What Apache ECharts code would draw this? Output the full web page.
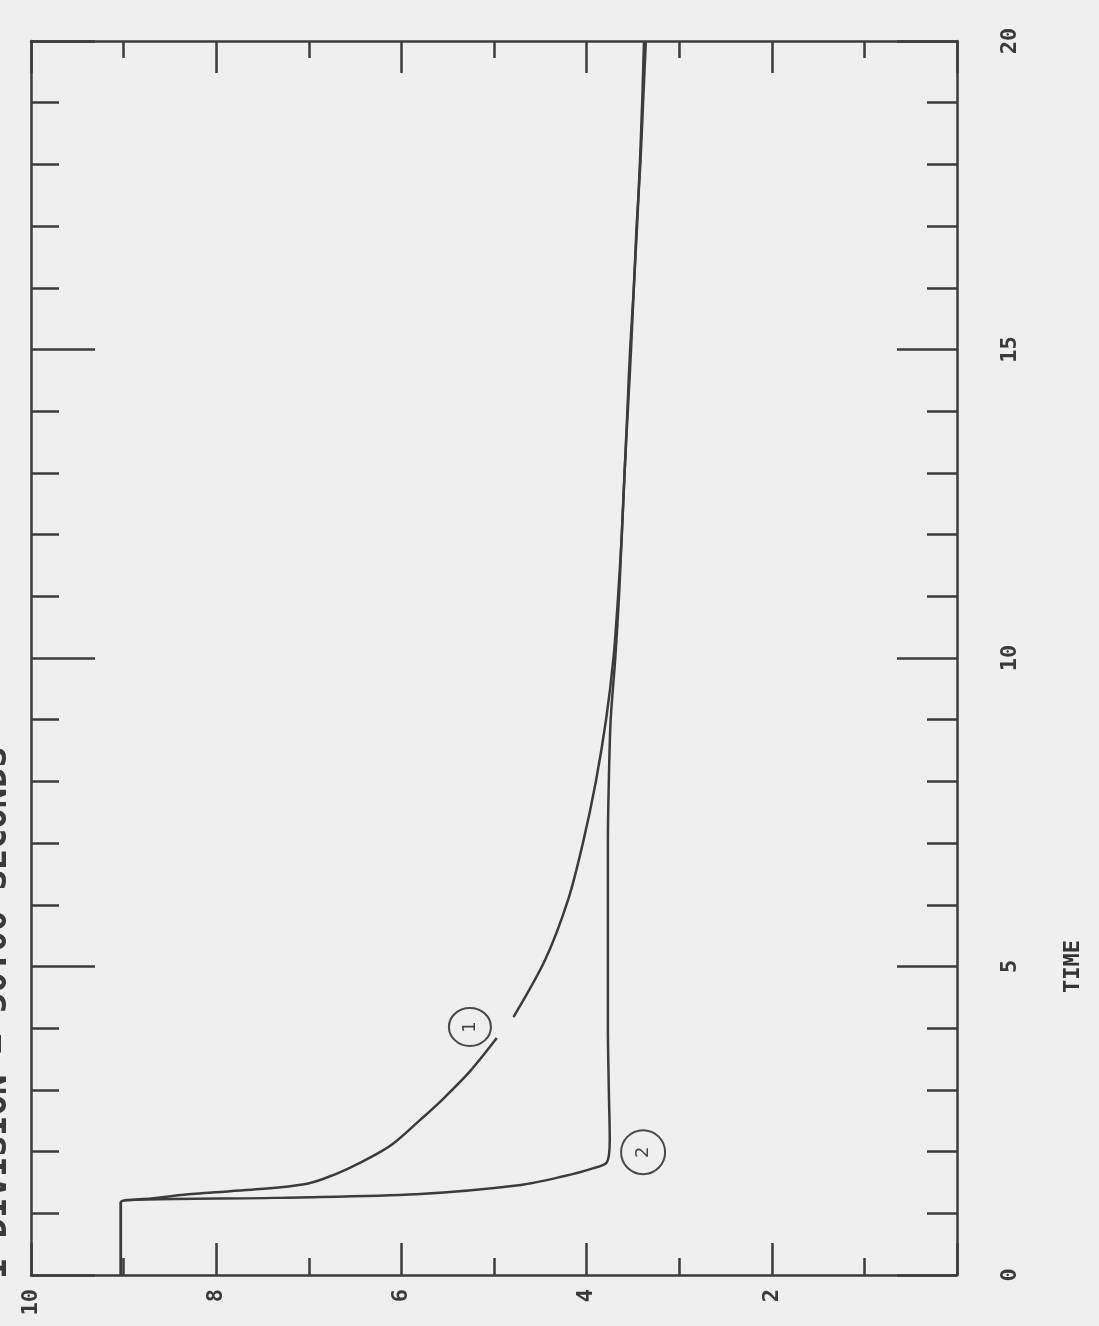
<!DOCTYPE html>
<html>
<head>
<meta charset="utf-8">
<script src="https://cdn.jsdelivr.net/npm/echarts@6/dist/echarts.min.js"></script>
<style>
html,body{margin:0;padding:0;background:#efefef;}
#chart{width:1099px;height:1326px;}
</style>
</head>
<body>
<div id="chart"></div>
<script>
// Value axis (drawn horizontally, inverted) and time axis (drawn vertically)
const valueTicks = [0, 2, 4, 6, 8, 10];
const timeTicks = [0, 5, 10, 15, 20];
const titleText = '1 DIVISION = 50.00 SECONDS';
const timeName = 'TIME';

// Curve 1 (null = pen gap near the label)
const time1 = [0, 1.0, 1.18, 1.24, 1.31, 1.40, 1.47, 1.56, 1.72, 1.95, 2.14, 2.51, 2.84, 3.30, 3.84, 4.00, 4.18, 5.10, 6.08, 7, 8, 9, 10, 11, 12, 13, 14, 15, 16, 17, 18, 19, 20];
const val1  = [9.03, 9.03, 9.03, 8.70, 8.30, 7.45, 7.05, 6.84, 6.58, 6.28, 6.08, 5.80, 5.56, 5.26, 4.97, null, 4.79, 4.45, 4.20, 4.04, 3.90, 3.79, 3.71, 3.66, 3.62, 3.59, 3.56, 3.53, 3.49, 3.46, 3.42, 3.39, 3.36];

// Curve 2
const time2 = [0, 1.0, 1.18, 1.25, 1.31, 1.46, 1.60, 1.72, 1.83, 2.19, 3, 4, 5, 6, 7, 8, 9, 10, 11, 12, 13, 14, 15, 16, 17, 18, 19, 20];
const val2  = [9.03, 9.03, 9.03, 7.37, 5.84, 4.71, 4.25, 3.95, 3.78, 3.75, 3.76, 3.77, 3.77, 3.77, 3.77, 3.76, 3.74, 3.69, 3.65, 3.62, 3.59, 3.555, 3.52, 3.49, 3.455, 3.425, 3.40, 3.38];

// Hand-drawn curve labels: [value, time]
const label1 = {text: '1', pos: [5.26, 4.02]};
const label2 = {text: '2', pos: [3.39, 1.99]};

const ink = '#3c3c3c';
const font = 'DejaVu Sans Mono';

function pairs(ts, vs) {
  return ts.map((t, i) => vs[i] == null ? '-' : [vs[i], t]);
}

const chart = echarts.init(document.getElementById('chart'));

function xAx(pos, showLabel) {
  return {
    type: 'value', position: pos, min: 0, max: 10, interval: 2, inverse: true,
    axisLine: {show: true, onZero: false, lineStyle: {color: ink, width: 2.5}},
    axisTick: {show: true, inside: true, length: 32, lineStyle: {color: ink, width: 2.5}},
    minorTick: {show: true, splitNumber: 2, length: 17, lineStyle: {color: ink, width: 2.5}},
    splitLine: {show: false}, minorSplitLine: {show: false},
    axisLabel: {show: showLabel, rotate: 90, margin: 14, fontSize: 22, fontWeight: 'bold', fontFamily: font, color: '#3a3a3a',
      formatter: v => (valueTicks.indexOf(v) >= 0 && v !== 0) ? String(v) : ''}
  };
}
function yAx(pos, showLabel, major, minor) {
  return {
    type: 'value', position: pos, min: 0, max: 20, interval: 5,
    axisLine: {show: true, onZero: false, lineStyle: {color: ink, width: 2.5}},
    axisTick: {show: true, inside: true, length: major, lineStyle: {color: ink, width: 2.5}},
    minorTick: {show: true, splitNumber: 5, length: minor, lineStyle: {color: ink, width: 2.5}},
    splitLine: {show: false}, minorSplitLine: {show: false},
    axisLabel: {show: showLabel, rotate: 90, margin: 42, fontSize: 22, fontWeight: 'bold', fontFamily: font, color: '#3a3a3a',
      formatter: v => timeTicks.indexOf(v) >= 0 ? String(v) : ''}
  };
}

function circleMark(l, size) {
  return {
    symbol: 'circle', symbolSize: size, silent: true,
    itemStyle: {color: 'rgba(0,0,0,0)', borderColor: '#4a4a4a', borderWidth: 2},
    label: {show: true, position: 'inside', formatter: l.text, rotate: 90, fontSize: 18, fontFamily: 'DejaVu Sans', color: '#444'},
    data: [{coord: l.pos}]
  };
}

chart.setOption({
  backgroundColor: '#efefef',
  animation: false,
  grid: {left: 31, right: 142, top: 41, bottom: 51, containLabel: false},
  xAxis: [xAx('bottom', true), xAx('top', false)],
  yAxis: [yAx('right', true, 60, 30), yAx('left', false, 64, 28)],
  series: [
    {
      type: 'line', xAxisIndex: 0, yAxisIndex: 0, data: pairs(time1, val1),
      showSymbol: false, symbol: 'none', smooth: 0.3, connectNulls: false,
      lineStyle: {color: ink, width: 2.5},
      markPoint: circleMark(label1, [42, 38])
    },
    {
      type: 'line', xAxisIndex: 0, yAxisIndex: 0, data: pairs(time2, val2),
      showSymbol: false, symbol: 'none', smooth: 0.3,
      lineStyle: {color: ink, width: 2.5},
      markPoint: circleMark(label2, [44, 44])
    }
  ]
});

const timeNameY = chart.convertToPixel({yAxisIndex: 0}, 5);
chart.setOption({
  graphic: [
    {type: 'text', x: 1073, y: timeNameY, rotation: Math.PI / 2, silent: true,
     style: {text: timeName, font: 'bold 22px ' + font, fill: '#333', align: 'center', verticalAlign: 'middle'}},
    {type: 'text', x: -3, y: 1013, rotation: Math.PI / 2, silent: true,
     style: {text: titleText, font: 'bold 34px ' + font, fill: '#3a3a3a', align: 'center', verticalAlign: 'middle'}}
  ]
});
</script>
</body>
</html>
